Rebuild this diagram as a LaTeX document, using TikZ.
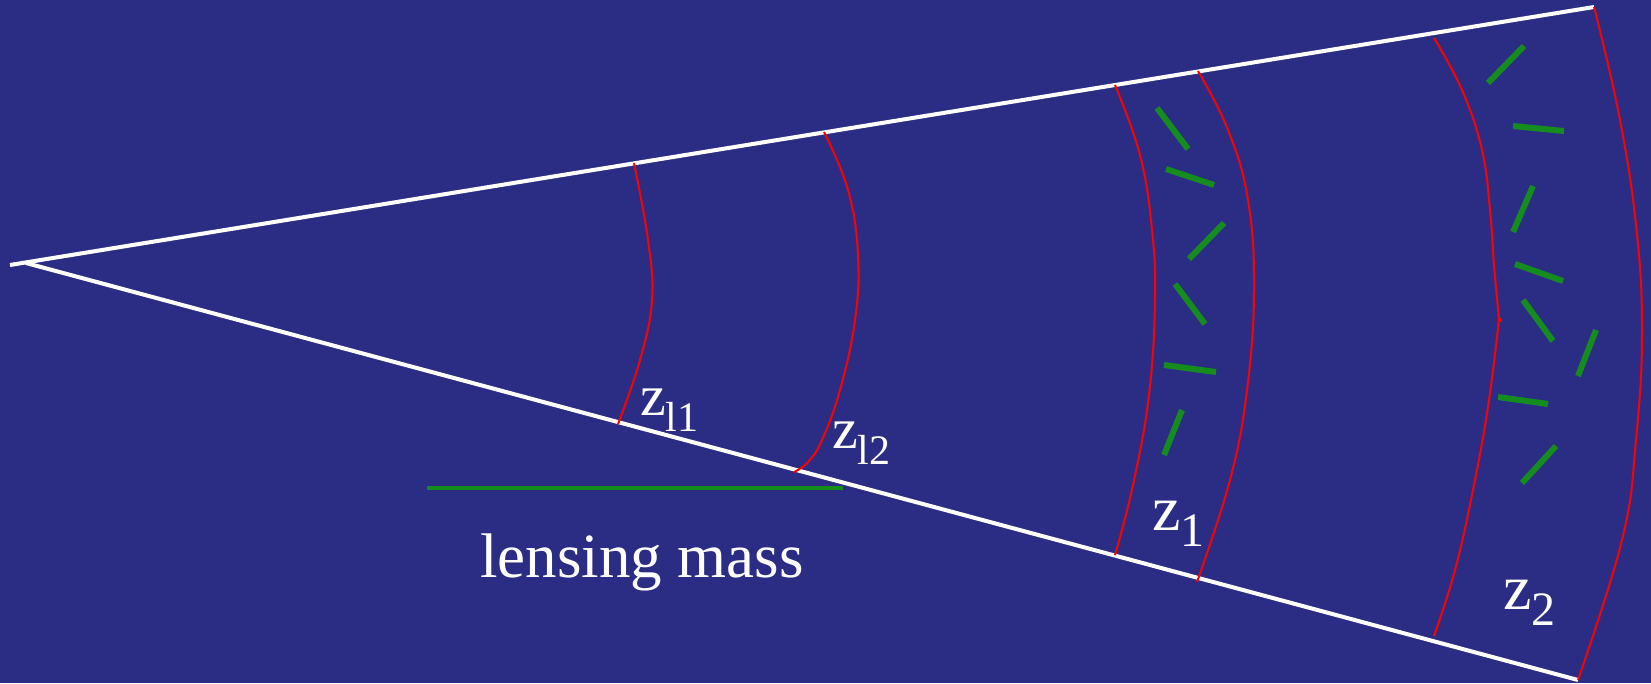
\documentclass[tikz,border=0pt]{standalone}
\usepackage{fontspec}
\setmainfont{Liberation Serif}
\definecolor{bgblue}{RGB}{43,45,133}
\definecolor{mgreen}{RGB}{20,140,30}
\newcommand{\zlab}[3]{\fontsize{#1}{#1}\selectfont z\raisebox{-16pt}{\fontsize{#2}{#2}\selectfont #3}}
\begin{document}
\begin{tikzpicture}[x=1pt,y=-1pt,
  edge/.style={white,line width=4pt},
  shell/.style={red,line width=2pt},
  gdash/.style={mgreen,line width=6pt},
  lbl/.style={white,anchor=base west,inner sep=0pt}]
\fill[bgblue] (0,0) rectangle (1651,683);
\useasboundingbox (0,0) rectangle (1651,683);
% cone edges
\draw[edge] (10,265) -- (1594,7);
\draw[edge] (26,263) -- (1578,680);
% red shells
\draw[shell] plot[smooth,tension=0.7] coordinates {(634,163) (648,240) (652,300) (640,360) (618,424)};
\draw[shell] plot[smooth,tension=0.7] coordinates {(824,132) (848,190) (858,255) (855,320) (840,390) (822,440) (808,462) (794,472)};
\draw[shell] plot[smooth,tension=0.7] coordinates {(1115,85) (1140,155) (1152,230) (1155,300) (1149,395) (1133,485) (1115,555)};
\draw[shell] plot[smooth,tension=0.7] coordinates {(1198,71) (1228,130) (1248,200) (1254,290) (1247,390) (1230,480) (1197,582)};
\draw[shell] plot[smooth,tension=0.7] coordinates {(1434,38) (1462,90) (1482,150) (1490,210) (1494,265) (1499,319)};
\draw[shell] plot[smooth,tension=0.7] coordinates {(1499,319) (1489,400) (1474,485) (1455,570) (1434,636)};
\fill[red] (1500,320) circle (2);
\draw[shell] plot[smooth,tension=0.7] coordinates {(1594,7) (1619,115) (1636,225) (1642,330) (1636,440) (1622,540) (1578,680)};
% green dashes, z1
\draw[gdash] (1157,108) -- (1188,149);
\draw[gdash] (1166,169) -- (1214,185);
\draw[gdash] (1224,223) -- (1189,259);
\draw[gdash] (1175,284) -- (1205,324);
\draw[gdash] (1164,365) -- (1216,372);
\draw[gdash] (1182,410) -- (1164,455);
% green dashes, z2
\draw[gdash] (1488,83) -- (1524,46);
\draw[gdash] (1513,126) -- (1564,131);
\draw[gdash] (1533,186) -- (1513,232);
\draw[gdash] (1515,264) -- (1563,281);
\draw[gdash] (1523,300) -- (1553,341);
\draw[gdash] (1596,330) -- (1578,376);
\draw[gdash] (1498,397) -- (1548,404);
\draw[gdash] (1556,446) -- (1522,483);
% lensing mass
\draw[mgreen,line width=4pt] (427,488) -- (843,488);
\node[lbl,anchor=base] (mass) at (642,577) {\fontsize{63}{63}\selectfont lensing mass};
% labels
\node[lbl] (zl1) at (640,415) {\zlab{58}{42}{l1}};
\node[lbl] (zl2) at (832,448) {\zlab{58}{42}{l2}};
\node[lbl] (z1) at (1152,530) {\zlab{64}{48}{1}};
\node[lbl] (z2) at (1503,609) {\zlab{64}{48}{2}};
\end{tikzpicture}
\end{document}
